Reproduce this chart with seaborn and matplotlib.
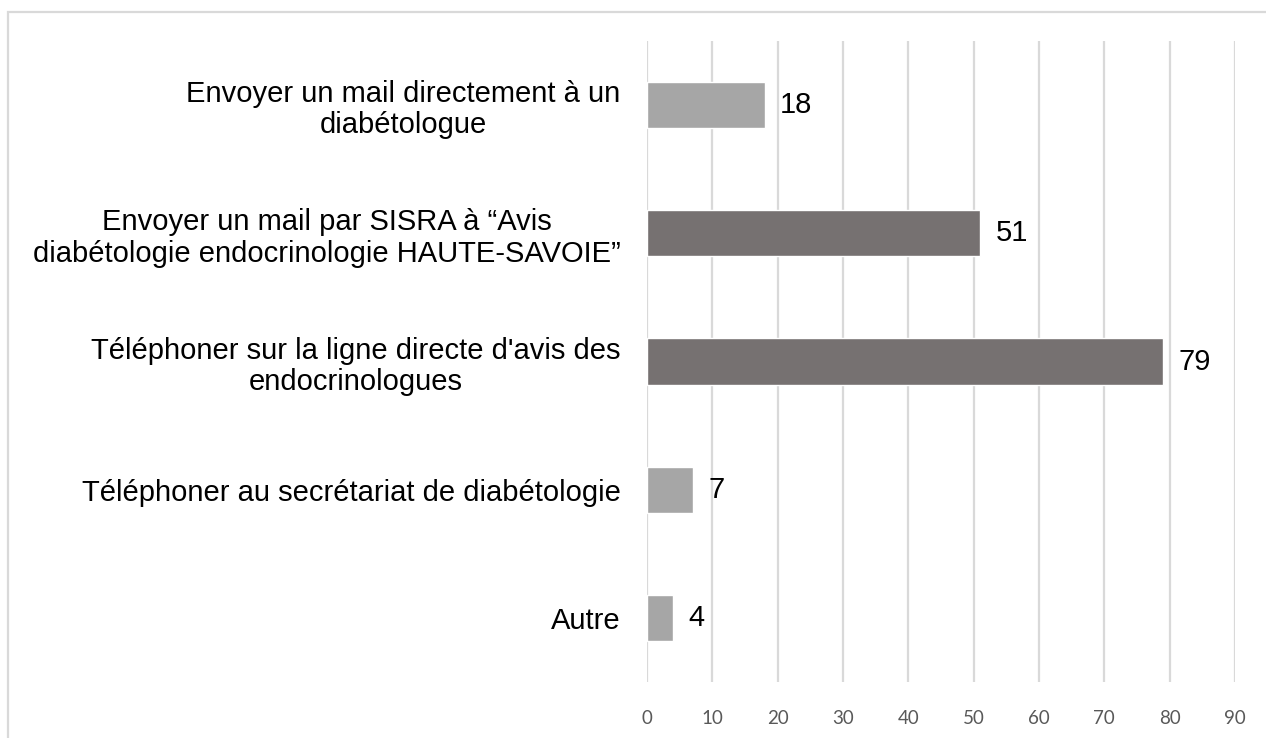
import matplotlib
matplotlib.use("Agg")
import matplotlib.pyplot as plt
import seaborn as sns
import pandas as pd
from matplotlib.patches import Rectangle

categories = [
    "Envoyer un mail directement à un\ndiabétologue",
    "Envoyer un mail par SISRA à “Avis\ndiabétologie endocrinologie HAUTE-SAVOIE”",
    "Téléphoner sur la ligne directe d'avis des\nendocrinologues",
    "Téléphoner au secrétariat de diabétologie",
    "Autre",
]
values = [18, 51, 79, 7, 4]
bar_colors = ["#A6A6A6", "#767171", "#767171", "#A6A6A6", "#A6A6A6"]
x_ticks = [0, 10, 20, 30, 40, 50, 60, 70, 80, 90]

sns.set_theme(style="white")
plt.rcParams["font.family"] = ["Liberation Sans", "DejaVu Sans"]

df = pd.DataFrame({"cat": categories, "val": values})

fig = plt.figure(figsize=(12.66, 7.38), dpi=100)
ax = fig.add_axes([647 / 1266, 1 - 682 / 738, (1235 - 647) / 1266, (682 - 41) / 738])

sns.barplot(data=df, y="cat", x="val", hue="cat", palette=bar_colors,
            order=categories, hue_order=categories, legend=False,
            width=0.36, orient="h", ax=ax, saturation=1)

ax.set_xlim(0, 90)
ax.set_ylim(4.5, -0.5)
ax.set_xticks(x_ticks)
ax.set_xticklabels([str(t) for t in x_ticks], fontsize=13.5, color="#595959",
                   fontfamily=["Lato", "DejaVu Sans"])
ax.tick_params(axis="x", length=0, pad=20)
ax.tick_params(axis="y", length=0, pad=19)
for lab in ax.get_yticklabels():
    lab.set_fontsize(21)
    lab.set_color("#000000")
    lab.set_multialignment("center")
    lab.set_linespacing(1.15)
ax.set_xlabel("")
ax.set_ylabel("")
ax.xaxis.grid(True, color="#D9D9D9", linewidth=1.6)
ax.yaxis.grid(False)
ax.set_axisbelow(True)
for s in ax.spines.values():
    s.set_visible(False)

for cont in ax.containers:
    ax.bar_label(cont, labels=[str(int(v)) for v in cont.datavalues], padding=11,
                 fontsize=21, color="#000000")

fig.patches.append(Rectangle((8 / 1266, -0.1), 1.2, 1 - 12 / 738 + 0.1,
                             transform=fig.transFigure, fill=False,
                             edgecolor="#D9D9D9", linewidth=1.6, zorder=0))

fig.savefig("out.png", dpi=100, facecolor="white")
